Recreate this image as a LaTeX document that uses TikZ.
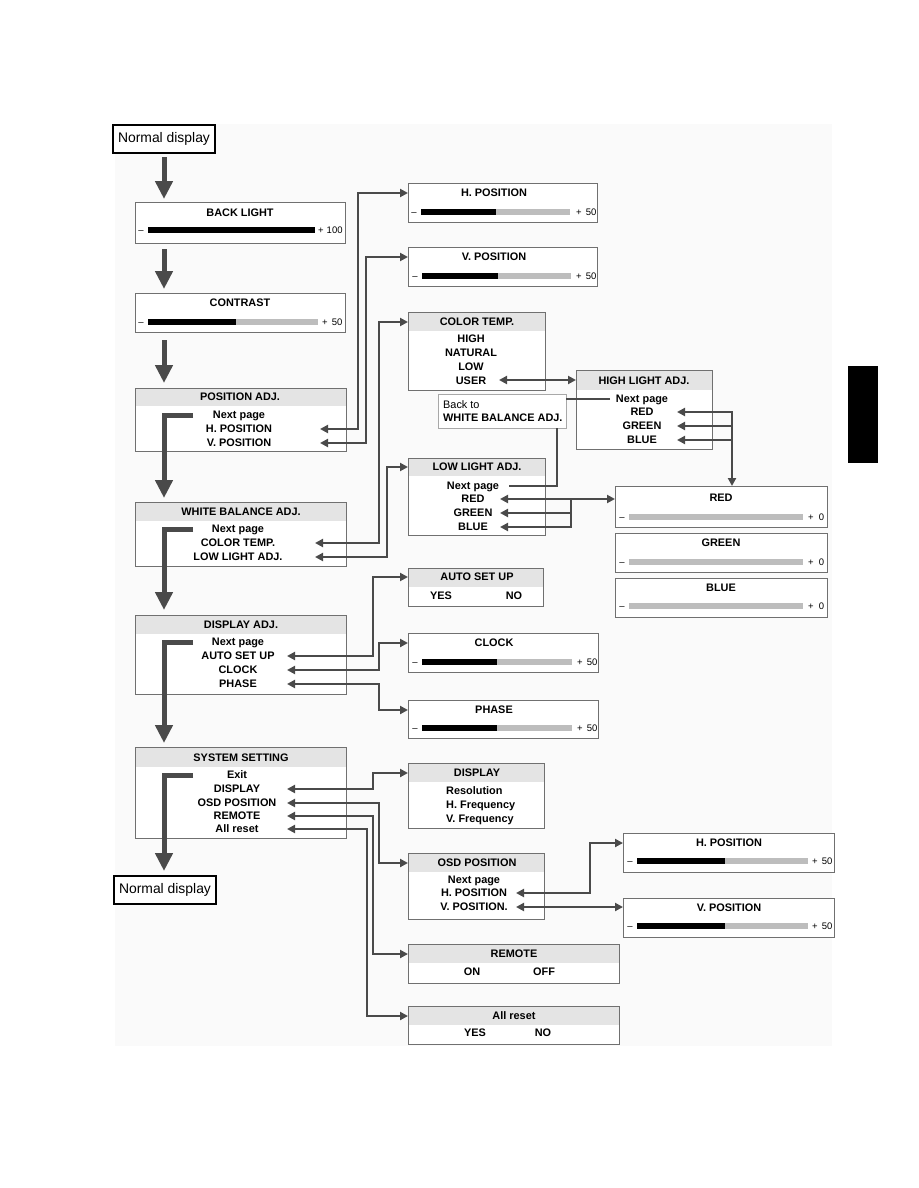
\documentclass[tikz,border=0pt]{standalone}
\usepackage{fontspec}
\setmainfont{Liberation Sans}
\usetikzlibrary{arrows.meta}
\definecolor{linec}{HTML}{4A4A4A}
\definecolor{boxc}{HTML}{707070}
\definecolor{headc}{HTML}{E4E4E4}
\definecolor{barg}{HTML}{BDBDBD}
\definecolor{panelc}{HTML}{FAFAFA}
\definecolor{btc}{HTML}{A8A8A8}
\newcommand\menubox[6]{%
  \pgfmathsetmacro\mbw{#4-#2}\pgfmathsetmacro\mbh{#5-#3}%
  \node[box,anchor=north west,minimum width=\mbw pt,minimum height=\mbh pt] (#1) at (#2,#3) {};%
  \ifnum#6>0 \fill[headc] ({#2+0.5},{#3+0.5}) rectangle ({#4-0.5},#6);\fi}
\newcommand\slider[7]{%
  \fill[barg] (#3,{#2-2.7}) rectangle (#5,{#2+2.7});%
  \ifdim#4pt>#3pt \fill[black] (#3,{#2-2.7}) rectangle (#4,{#2+2.7});\fi
  \node[num] (#1-m) at ({#3-7},#2) {\textendash};%
  \node[num,anchor=west] (#1-p) at (#6,#2) {#7};}
\tikzset{
  box/.style={draw=boxc, line width=0.9pt, fill=white, inner sep=0pt, outer sep=0pt},
  ndbox/.style={draw=black, line width=1.2pt, fill=white, inner sep=0pt, outer sep=0pt,
     font=\fontsize{13.9}{15}\selectfont},
  btbox/.style={draw=btc, line width=0.8pt, fill=white, inner sep=0pt, outer sep=0pt},
  lbl/.style={font=\bfseries\fontsize{10.9}{12}\selectfont, inner sep=0pt, text height=7.8pt, text depth=0pt},
  rlbl/.style={font=\fontsize{10.9}{12}\selectfont, inner sep=0pt, text height=7.8pt, text depth=0pt},
  num/.style={font=\fontsize{9.5}{10}\selectfont, inner sep=0pt, text height=6.8pt, text depth=0pt},
  conn/.style={draw=linec, line width=2pt},
  big/.style={draw=linec, line width=5pt, -{Triangle[width=17pt,length=18pt]}},
}
\begin{document}
\begin{tikzpicture}[x=1pt,y=-1pt,>={Triangle[width=8pt,length=8pt]}]
\useasboundingbox (0,0) rectangle (918,1188);
\fill[panelc] (115,124) rectangle (832,1046);
\fill[black] (848,366) rectangle (878,463);
\coordinate (sp) at (164,0);

% ---------- left column ----------
\node[ndbox, minimum width=102pt, minimum height=28pt] (nd1) at (164,139) {Normal display};

\menubox{bl}{135}{202}{345}{243}{0}
\node[lbl] (bl-t) at (240,213) {BACK LIGHT};
\slider{bl-s}{230}{148}{315}{315}{318}{+\hspace{3pt}100}

\menubox{ct}{135}{293}{345}{332}{0}
\node[lbl] (ct-t) at (240,303) {CONTRAST};
\slider{ct-s}{322}{148}{236}{318}{322}{+\hspace{4pt}50}

\menubox{pa}{135}{388}{346}{451}{406}
\node[lbl] (pa-t) at (240,397) {POSITION ADJ.};
\node[lbl] (pa-n) at (239,415) {Next page};
\node[lbl] (pa-h) at (239,429) {H. POSITION};
\node[lbl] (pa-v) at (239,443) {V. POSITION};

\menubox{wb}{135}{502}{346}{566}{521}
\node[lbl] (wb-t) at (241,512) {WHITE BALANCE ADJ.};
\node[lbl] (wb-n) at (238,529) {Next page};
\node[lbl] (wb-c) at (238,543) {COLOR TEMP.};
\node[lbl] (wb-l) at (238,557) {LOW LIGHT ADJ.};

\menubox{da}{135}{615}{346}{694}{634}
\node[lbl] (da-t) at (241,625) {DISPLAY ADJ.};
\node[lbl] (da-n) at (238,642) {Next page};
\node[lbl] (da-a) at (238,656) {AUTO SET UP};
\node[lbl] (da-c) at (238,670) {CLOCK};
\node[lbl] (da-p) at (238,684) {PHASE};

\menubox{ss}{135}{747}{346}{838}{767}
\node[lbl] (ss-t) at (241,758) {SYSTEM SETTING};
\node[lbl] (ss-e) at (237,775) {Exit};
\node[lbl] (ss-d) at (237,789) {DISPLAY};
\node[lbl] (ss-o) at (237,803) {OSD POSITION};
\node[lbl] (ss-r) at (237,816) {REMOTE};
\node[lbl] (ss-a) at (237,829) {All reset};

\node[ndbox, minimum width=102pt, minimum height=28pt] (nd2) at (165,890) {Normal display};

% ---------- second column ----------
\menubox{hp}{408}{183}{597}{222}{0}
\node[lbl] (hp-t) at (494,193) {H. POSITION};
\slider{hp-s}{212}{421}{496}{570}{576}{+\hspace{4pt}50}

\menubox{vp}{408}{247}{597}{286}{0}
\node[lbl] (vp-t) at (494,257) {V. POSITION};
\slider{vp-s}{276}{422}{498}{571}{576}{+\hspace{4pt}50}

\menubox{ctp}{408}{312}{545}{390}{331}
\node[lbl] (ctp-t) at (477,322) {COLOR TEMP.};
\node[lbl] (ctp-h) at (471,339) {HIGH};
\node[lbl] (ctp-n) at (471,353) {NATURAL};
\node[lbl] (ctp-l) at (471,367) {LOW};
\node[lbl] (ctp-u) at (471,381) {USER};

\node[btbox, anchor=north west, minimum width=128pt, minimum height=34pt] (bt) at (438,394) {};
\node[rlbl, anchor=west] (bt-1) at (443,405) {Back to};
\node[lbl, anchor=west] (bt-2) at (443,418) {WHITE BALANCE ADJ.};

\menubox{ll}{408}{458}{545}{535}{476}
\node[lbl] (ll-t) at (477,467) {LOW LIGHT ADJ.};
\node[lbl] (ll-n) at (473,486) {Next page};
\node[lbl] (ll-r) at (473,499) {RED};
\node[lbl] (ll-g) at (473,513) {GREEN};
\node[lbl] (ll-b) at (473,527) {BLUE};

\menubox{asu}{408}{568}{543}{606}{587}
\node[lbl] (asu-t) at (477,577) {AUTO SET UP};
\node[lbl] (asu-y) at (441,596) {YES};
\node[lbl] (asu-n) at (514,596) {NO};

\menubox{clk}{408}{633}{598}{672}{0}
\node[lbl] (clk-t) at (494,643) {CLOCK};
\slider{clk-s}{662}{422}{497}{572}{577}{+\hspace{4pt}50}

\menubox{ph}{408}{700}{598}{738}{0}
\node[lbl] (ph-t) at (494,710) {PHASE};
\slider{ph-s}{728}{422}{497}{572}{577}{+\hspace{4pt}50}

\menubox{dsp}{408}{763}{544}{828}{782}
\node[lbl] (dsp-t) at (477,773) {DISPLAY};
\node[lbl, anchor=west] (dsp-r) at (446,791) {Resolution};
\node[lbl, anchor=west] (dsp-h) at (446,805) {H. Frequency};
\node[lbl, anchor=west] (dsp-v) at (446,819) {V. Frequency};

\menubox{osd}{408}{853}{544}{919}{872}
\node[lbl] (osd-t) at (477,863) {OSD POSITION};
\node[lbl] (osd-n) at (474,880) {Next page};
\node[lbl] (osd-h) at (474,893) {H. POSITION};
\node[lbl] (osd-v) at (474,907) {V. POSITION.};

\menubox{rem}{408}{944}{619}{983}{963}
\node[lbl] (rem-t) at (514,954) {REMOTE};
\node[lbl] (rem-on) at (472,972) {ON};
\node[lbl] (rem-off) at (544,972) {OFF};

\menubox{ar}{408}{1006}{619}{1044}{1025}
\node[lbl] (ar-t) at (514,1016) {All reset};
\node[lbl] (ar-y) at (475,1033) {YES};
\node[lbl] (ar-n) at (543,1033) {NO};

% ---------- third column ----------
\menubox{hl}{576}{370}{712}{449}{390}
\node[lbl] (hl-t) at (644,381) {HIGH LIGHT ADJ.};
\node[lbl] (hl-n) at (642,399) {Next page};
\node[lbl] (hl-r) at (642,412) {RED};
\node[lbl] (hl-g) at (642,426) {GREEN};
\node[lbl] (hl-b) at (642,440) {BLUE};

\menubox{rb}{615}{486}{827}{527}{0}
\node[lbl] (rb-t) at (721,498) {RED};
\slider{rb-s}{517}{629}{629}{803}{808}{+\hspace{5pt}0}

\menubox{gb}{615}{533}{827}{572}{0}
\node[lbl] (gb-t) at (721,543) {GREEN};
\slider{gb-s}{562}{629}{629}{803}{808}{+\hspace{5pt}0}

\menubox{bb}{615}{578}{827}{617}{0}
\node[lbl] (bb-t) at (721,588) {BLUE};
\slider{bb-s}{606}{629}{629}{803}{808}{+\hspace{5pt}0}

\menubox{hp2}{623}{833}{834}{872}{0}
\node[lbl] (hp2-t) at (729,843) {H. POSITION};
\slider{hp2-s}{861}{637}{725}{808}{812}{+\hspace{4pt}50}

\menubox{vp2}{623}{898}{834}{937}{0}
\node[lbl] (vp2-t) at (729,908) {V. POSITION};
\slider{vp2-s}{926}{637}{725}{808}{812}{+\hspace{4pt}50}

% ---------- main flow arrows ----------
\draw[big, shorten <=4pt, shorten >=3pt] (nd1.south) -- (nd1.south |- bl.north);
\draw[big, shorten <=6pt, shorten >=4pt] (sp |- bl.south) -- (sp |- ct.north);
\draw[big, shorten <=8pt, shorten >=5pt] (sp |- ct.south) -- (sp |- pa.north);
\coordinate (pa-s) at (193,415);
\coordinate (wb-s) at (193,529);
\coordinate (da-s) at (193,642);
\coordinate (ss-s) at (193,775);
\draw[big, shorten >=4pt] (pa-s) -| (sp |- wb.north);
\draw[big, shorten >=5pt] (wb-s) -| (sp |- da.north);
\draw[big, shorten >=4pt] (da-s) -| (sp |- ss.north);
\draw[big, shorten >=5pt] (ss-s) -| (sp |- nd2.north);

% ---------- connector tips ----------
\coordinate (pa-ht) at (320,429);
\coordinate (pa-vt) at (320,443);
\coordinate (wb-ct) at (315,543);
\coordinate (wb-lt) at (315,557);
\coordinate (ctp-ut) at (499,380);
\coordinate (hl-ns) at (610,399);
\coordinate (ll-ne) at (509,486);
\coordinate (v557) at (557,0);
\coordinate (ll-rt) at (500,499);
\coordinate (ll-gt) at (500,513);
\coordinate (ll-bt) at (500,527);
\coordinate (jL) at (571,499);
\coordinate (hl-rt) at (677,412);
\coordinate (hl-gt) at (677,426);
\coordinate (hl-bt) at (677,440);
\coordinate (jH) at (732,0);
\coordinate (da-at) at (287,656);
\coordinate (da-ct) at (287,670);
\coordinate (da-pt) at (287,684);
\coordinate (ss-dt) at (287,789);
\coordinate (ss-ot) at (287,803);
\coordinate (ss-rt) at (287,816);
\coordinate (ss-at) at (287,829);
\coordinate (osd-ht) at (516,893);
\coordinate (osd-vt) at (516,907);

% ---------- connectors ----------
\draw[conn,<->] (pa-ht) -- ++(38,0) |- (hp.west |- hp-t);
\draw[conn,<->] (pa-vt) -- ++(46,0) |- (vp.west |- vp-t);
\draw[conn,<->] (wb-ct) -- ++(64,0) |- (ctp.west |- ctp-t);
\draw[conn,<->] (wb-lt) -- ++(72,0) |- (ll.west |- ll-t);
\draw[conn,<->] (ctp-ut) -- (hl.west |- ctp-ut);
\draw[conn] (hl-ns) -- (bt.east |- hl-ns);
\draw[conn] (ll-ne) -| (bt.south -| v557);
\draw[conn,<->] (ll-rt) -- (rb.west |- ll-rt);
\draw[conn,<-] (ll-gt) -| (jL);
\draw[conn,<-] (ll-bt) -| (jL);
\draw[conn,<->] (hl-rt) -| (rb.north -| jH);
\draw[conn,<-] (hl-gt) -- (jH |- hl-gt);
\draw[conn,<-] (hl-bt) -- (jH |- hl-bt);
\draw[conn,<->] (da-at) -- ++(86,0) |- (asu.west |- asu-t);
\draw[conn,<->] (da-ct) -- ++(92,0) |- (clk.west |- clk-t);
\draw[conn,<->] (da-pt) -- ++(92,0) |- (ph.west |- ph-t);
\draw[conn,<->] (ss-dt) -- ++(86,0) |- (dsp.west |- dsp-t);
\draw[conn,<->] (ss-ot) -- ++(92,0) |- (osd.west |- osd-t);
\draw[conn,<->] (ss-rt) -- ++(86,0) |- (rem.west |- rem-t);
\draw[conn,<->] (ss-at) -- ++(80,0) |- (ar.west |- ar-t);
\draw[conn,<->] (osd-ht) -- ++(74,0) |- (hp2.west |- hp2-t);
\draw[conn,<->] (osd-vt) -- (vp2.west |- osd-vt);
\end{tikzpicture}
\end{document}
